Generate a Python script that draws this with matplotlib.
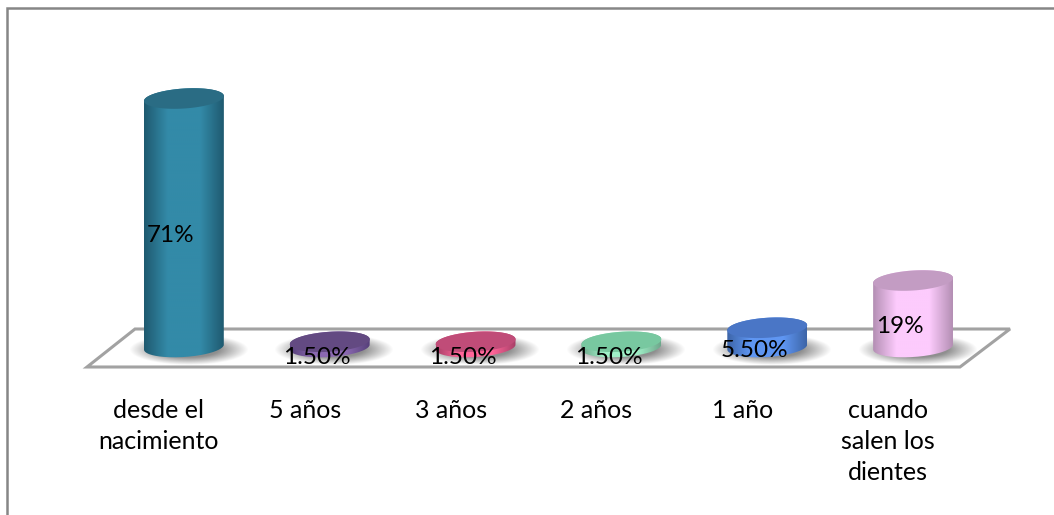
import numpy as np
import matplotlib
matplotlib.use('Agg')
import matplotlib.pyplot as plt
from matplotlib.patches import Polygon
from matplotlib.path import Path
from matplotlib.colors import LinearSegmentedColormap, to_rgb

plt.rcParams['font.family'] = ['Lato', 'DejaVu Sans']

categories = ['desde el\nnacimiento', '5 años', '3 años', '2 años', '1 año',
              'cuando\nsalen los\ndientes']
values = [71, 1.5, 1.5, 1.5, 5.5, 19]
value_labels = ['71%', '1.50%', '1.50%', '1.50%', '5.50%', '19%']
side_colors = ['#338aa8', '#8a68b0', '#ff6699', '#a0f0c8', '#5f96f2', '#fdcbfd']
edge_colors = ['#1f5a70', '#56407a', '#a83f68', '#6fa88c', '#3d65a8', '#b48fb4']
top_colors = ['#2a6c84', '#634a82', '#c04c78', '#78c8a0', '#4a76c6', '#c39cc3']

W, H = 1054, 515
fig = plt.figure(figsize=(W / 100, H / 100), dpi=100)

# page layer, works in pixels
bg = fig.add_axes([0, 0, 1, 1])
bg.set_xlim(0, W)
bg.set_ylim(H, 0)
bg.axis('off')
bg.plot([7, 7, W], [H, 8, 8], color='#868686', lw=1.8, solid_joinstyle='miter')
bg.add_patch(Polygon([(87, 367), (960, 367), (1010, 329), (135, 329)], closed=True,
                     fc='white', ec='#a2a2a2', lw=2.2, joinstyle='miter'))

# chart layer: y is percent, 3.5 px per unit, baseline at y=347 px
left, right, top, bottom = 111, 986, 67, 368
ax = fig.add_axes([left / W, 1 - bottom / H, (right - left) / W, (bottom - top) / H])
ax.axis('off')
ax.patch.set_alpha(0)

half_w = 40 / 146.0
half_h = 10 / 3.5
tilt = 2.5 / 3.5
t = np.linspace(0, 2 * np.pi, 200)
grey = LinearSegmentedColormap.from_list('shadow', [(0.45, 0.45, 0.45, 0), (0.45, 0.45, 0.45, 0.8)])


def ellipse(cx, cy):
    return np.column_stack([cx + half_w * np.cos(t),
                            cy + half_h * np.sin(t) + tilt * np.cos(t)])


def shadow(cx):
    # soft grey pool on the floor, shifted right of the base
    xs = np.linspace(-1, 1, 120)
    xx, yy = np.meshgrid(xs, xs)
    alpha = np.clip(1 - np.sqrt(xx ** 2 + yy ** 2), 0, 0.5) / 0.5
    ax.imshow(alpha, extent=[cx - 0.38, cx + 0.44, -5.2, 3.6], cmap=grey,
              vmin=0, vmax=1, aspect='auto', zorder=2, origin='lower')


def cylinder(cx, val, side, edge, lid):
    a = np.linspace(np.pi, 0, 100)
    xs = cx + half_w * np.cos(a)
    off = tilt * np.cos(a)
    arc = half_h * np.sin(a)
    outline = np.vstack([np.column_stack([xs, val + off + arc]),
                         np.column_stack([xs[::-1], (off - arc)[::-1]])])
    # horizontal shading of the curved side
    cmap = LinearSegmentedColormap.from_list('side', [to_rgb(edge), to_rgb(side), to_rgb(side), to_rgb(edge)])
    grad = np.interp(np.linspace(0, 1, 200), [0, 0.3, 0.7, 1], [0, 0.34, 0.66, 1])[None, :]
    img = ax.imshow(grad, extent=[cx - half_w, cx + half_w, -half_h - 1, val + half_h + 1],
                    cmap=cmap, aspect='auto', zorder=3)
    img.set_clip_path(Path(outline), transform=ax.transData)
    ax.add_patch(Polygon(ellipse(cx, val), closed=True, fc=lid, ec='none', zorder=4))


for i, val in enumerate(values):
    shadow(i)
    cylinder(i, val, side_colors[i], edge_colors[i], top_colors[i])
    # value sits half way up the bar, left of its axis
    ax.annotate(value_labels[i], (i, val / 2), xytext=(-13, -13), textcoords='offset pixels',
                ha='center', va='center', fontsize=17.5, color='black', zorder=6)
    ax.annotate(categories[i], (i, 0), xytext=(-25, -52), textcoords='offset pixels',
                ha='center', va='top', fontsize=18, color='black', linespacing=1.42,
                annotation_clip=False, zorder=6)

ax.set_xlim(-0.5, 5.5)
ax.set_ylim(-6, 80)

fig.savefig('out.png', dpi=100)
